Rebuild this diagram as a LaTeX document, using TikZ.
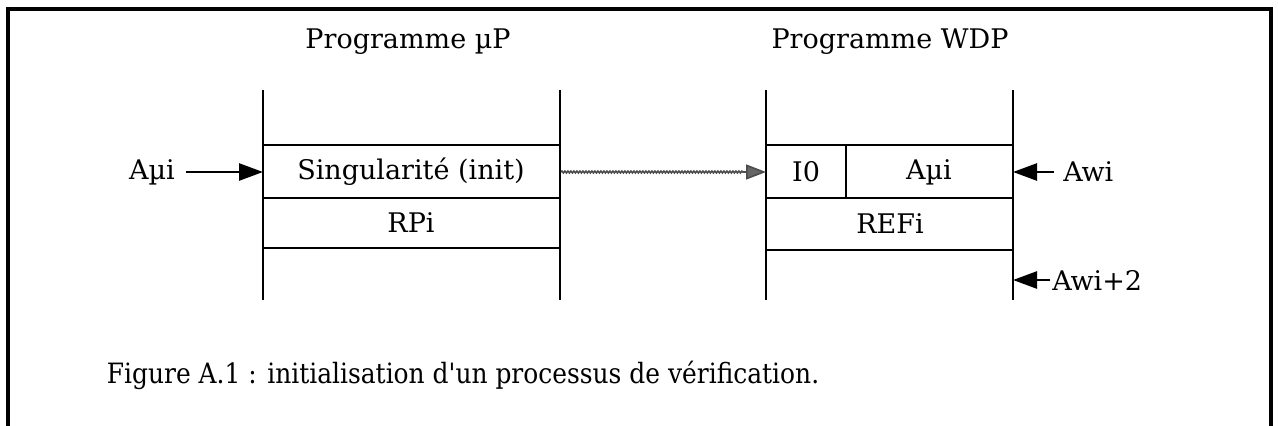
\documentclass[tikz,border=0pt]{standalone}
\usepackage{fontspec}
\setmainfont{DejaVu Serif}
\usetikzlibrary{arrows.meta,decorations.pathmorphing}
\begin{document}
\begin{tikzpicture}[x=1pt,y=-1pt,line width=2.6pt,
  lbl/.style={font=\fontsize{27}{30}\selectfont, inner sep=0pt},
  captxt/.style={font=\fontsize{28}{31}\selectfont, inner sep=0pt},
  arr/.style={-{Triangle[length=24pt,width=17pt]}},
  framebox/.style={line width=4pt}]
\useasboundingbox (0,0) rectangle (1278,426);
\draw[framebox] (8,440) -- (8,9) -- (1271,9) -- (1271,440);
% left column
\coordinate (L1t) at (263,90); \coordinate (L1b) at (263,300);
\coordinate (L2t) at (560,90); \coordinate (L2b) at (560,300);
\draw (L1t) -- (L1b); \draw (L2t) -- (L2b);
\draw (263,145) -- (560,145);
\draw (263,198) -- (560,198);
\draw (263,248) -- (560,248);
% right column
\coordinate (R1t) at (766,90); \coordinate (R1b) at (766,300);
\coordinate (R2t) at (1013,90); \coordinate (R2b) at (1013,300);
\draw (R1t) -- (R1b); \draw (R2t) -- (R2b);
\draw (766,145) -- (1013,145);
\draw (766,198) -- (1013,198);
\draw (766,250) -- (1013,250);
\draw (846,145) -- (846,198);
% texts
\node[lbl] (pmu) at (408,42) {Programme µP};
\node[lbl] (pwdp) at (890,42) {Programme WDP};
\node[lbl] (sing) at (411,172) {Singularité (init)};
\node[lbl] (rpi) at (411,223) {RPi};
\node[lbl] (io) at (806,172) {I0};
\node[lbl] (amur) at (929,172) {Aµi};
\node[lbl] (refi) at (890,224) {REFi};
\node[lbl,anchor=east] (amu) at (176,172) {Aµi};
\node[lbl,anchor=west] (awi) at (1062,172) {Awi};
\node[lbl,anchor=west] (awi2) at (1051,280) {Awi+2};
\node[captxt] (caption) at (463,375) {\scalebox{0.89}[1]{Figure A.1 : initialisation d\textquotesingle un processus de vérification.}};
% arrows
\coordinate (inL) at (263,172);
\coordinate (outL) at (561,172);
\coordinate (inR) at (766,172);
\coordinate (inR2) at (1013,172);
\coordinate (inR3) at (1013,280);
\draw[arr, shorten <=10pt] (amu.east) -- (inL);
\draw[arr, shorten <=8pt] (awi.west) -- (inR2);
\draw[arr, shorten <=1pt] (awi2.west) -- (inR3);
\draw[gray!60!black, line width=1.6pt, decorate,
  decoration={snake, amplitude=0.9pt, segment length=3pt, post length=22pt},
  -{Triangle[length=20pt,width=15pt,fill=gray!80!black]}] (outL) -- (inR);
\end{tikzpicture}
\end{document}
